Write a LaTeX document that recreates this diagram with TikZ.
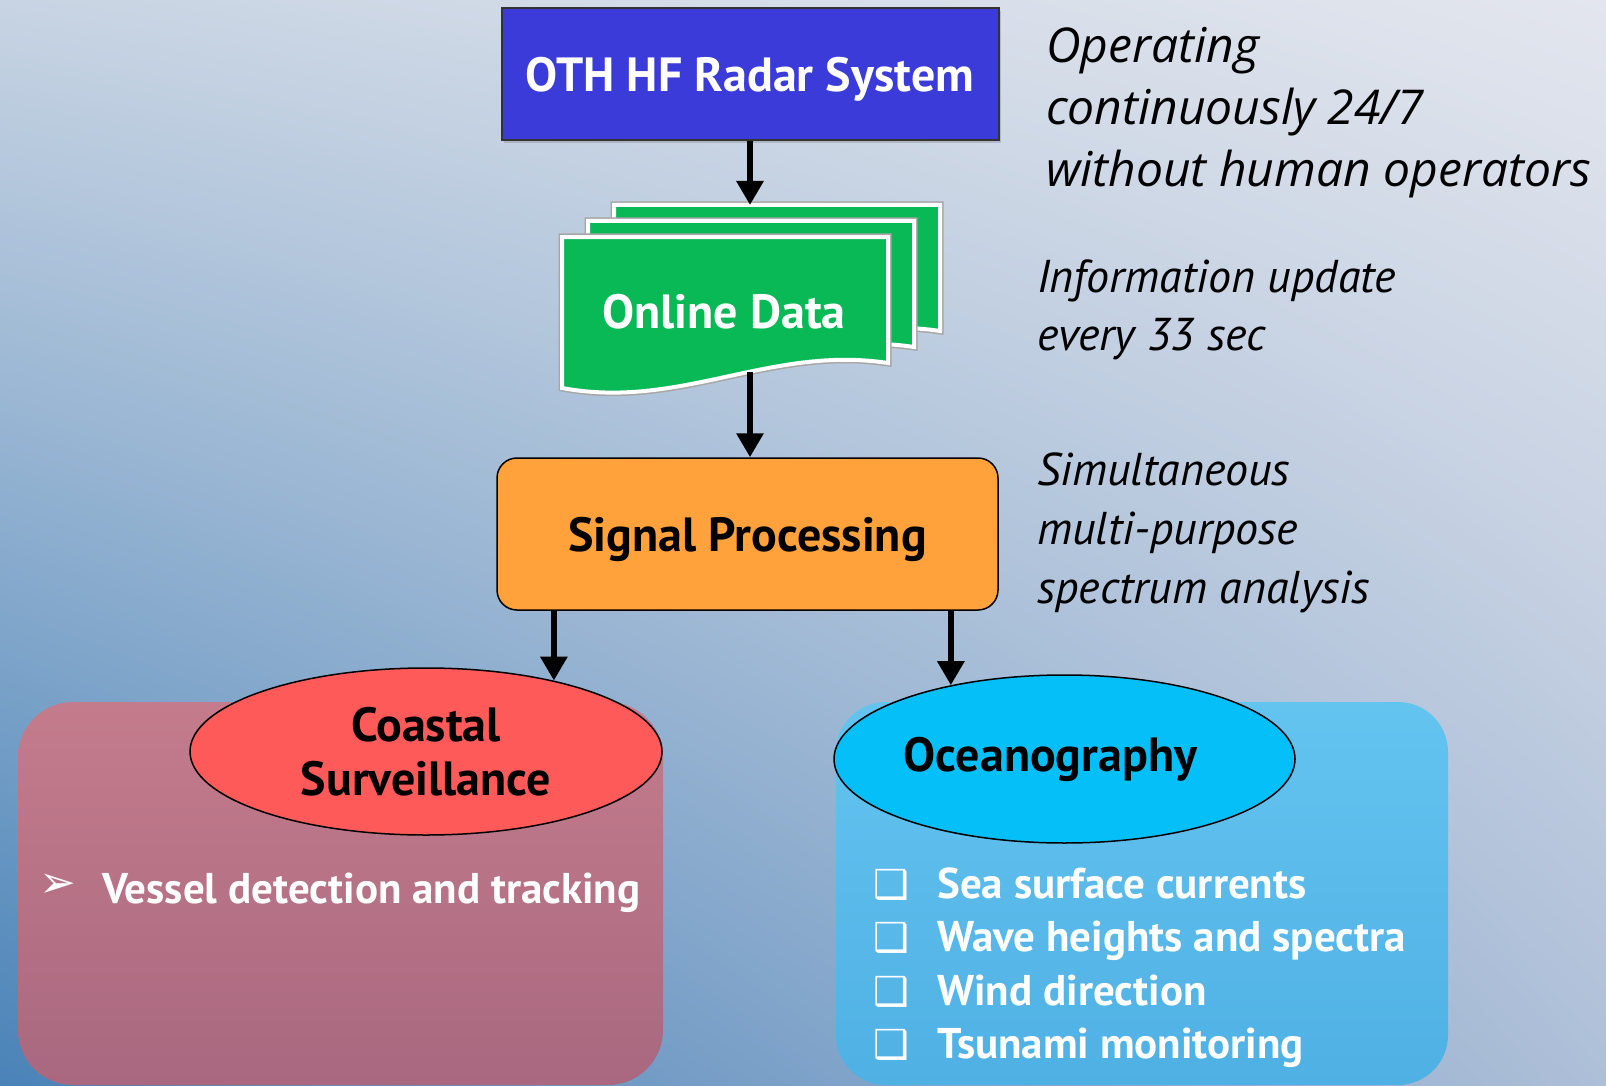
\documentclass[tikz,border=0pt]{standalone}
\usepackage{fontspec}
\setmainfont{PT Sans}
\newfontfamily\notefont{Open Sans}
\newfontfamily\dingfont{DejaVu Sans}
\usetikzlibrary{arrows.meta, positioning, shapes.geometric, shadows, shadings}
\definecolor{bgUL}{HTML}{C8D4E3}
\definecolor{bgUR}{HTML}{E3E6EE}
\definecolor{bgLL}{HTML}{4A83B8}
\definecolor{bgLR}{HTML}{AEBFD8}
\definecolor{radarBlue}{HTML}{3B3BD9}
\definecolor{dataGreen}{HTML}{08B955}
\definecolor{procOrange}{HTML}{FFA23B}
\definecolor{coastRed}{HTML}{FF5A5A}
\definecolor{oceanCyan}{HTML}{05C0F8}
\definecolor{coastTop}{HTML}{C47C8C}
\definecolor{coastBot}{HTML}{A96880}
\definecolor{oceanTop}{HTML}{64C4F0}
\definecolor{oceanBot}{HTML}{4FB0E4}

\begin{document}
\begin{tikzpicture}[x=1pt, y=-1pt,
    flow/.style={line width=6pt, -{Triangle[width=26pt, length=24pt]}},
    bigtext/.style={font=\bfseries\fontsize{48}{56}\selectfont},
    radarbox/.style={rectangle, fill=radarBlue, draw=black!80, line width=2pt, text=white, bigtext, text depth=0pt,
        minimum width=497pt, minimum height=132pt, drop shadow={opacity=0.35, shadow xshift=2pt, shadow yshift=-3pt}},
    procbox/.style={rectangle, rounded corners=20pt, fill=procOrange, draw=black, line width=1.5pt, bigtext, text depth=0pt,
        minimum width=501pt, minimum height=152pt},
    topic/.style={ellipse, draw=black, line width=1.5pt, bigtext, align=center, inner sep=0pt},
    sheet/.style={fill=dataGreen, draw=white, line width=4pt, preaction={draw=gray!70, line width=7pt}},
    notetext/.style={font=\itshape\fontsize{46}{58}\selectfont, align=left, anchor=base west, inner sep=0pt},
    listtext/.style={text=white, font=\bfseries\fontsize{43}{50}\selectfont, anchor=base west, inner sep=0pt},
    marker/.style={text=white, inner sep=0pt}]

    % background
    \shade[upper left=bgUL, upper right=bgUR, lower left=bgLL, lower right=bgLR] (0,0) rectangle (1606,1086);
    \useasboundingbox (0,0) rectangle (1606,1086);

    % application panels
    \shade[top color=coastTop, bottom color=coastBot, rounded corners=55pt] (18,702) rectangle (663,1085);
    \shade[top color=oceanTop, bottom color=oceanBot, rounded corners=50pt] (836,702) rectangle (1448,1085);

    % radar
    \node[radarbox] (radar) at (750,74) {OTH HF Radar System};

    % online data sheets
    \draw[sheet, shift={(52,-32)}] (562,237) -- (888,237) -- (888,363) .. controls (770,345) and (680,410) .. (562,388) -- cycle;
    \draw[sheet, shift={(26,-16)}] (562,237) -- (888,237) -- (888,363) .. controls (770,345) and (680,410) .. (562,388) -- cycle;
    \draw[sheet] (562,237) -- (888,237) -- (888,363) .. controls (770,345) and (680,410) .. (562,388) -- cycle;
    \node[bigtext, text=white, inner sep=0pt] (data) at (724,312) {Online Data};
    \coordinate (datatop) at (750,205);
    \coordinate (databot) at (750,372);

    % processing and topics
    \node[procbox] (proc) at (747.5,534) {Signal Processing};
    \node[topic, fill=coastRed, minimum width=472pt, minimum height=167pt] (coast) at (426,751.5) {Coastal\\[-2pt]Surveillance};
    \node[topic, fill=oceanCyan, minimum width=461pt, minimum height=168pt] (ocean) at (1064.5,759) {Oceanography\hspace*{28pt}};

    \draw[flow] (radar) -- (datatop);
    \draw[flow] (databot) -- (databot |- proc.north);
    \draw[flow] (proc.south -| coast.29.5) -- (coast.29.5);
    \draw[flow] (proc.south -| ocean.147.2) -- (ocean.147.2);

    % notes on the right
    \node[notetext, font=\notefont\itshape\fontsize{48}{62}\selectfont] (note1) at (1046,187) {Operating\\continuously 24/7\\without human operators};
    \node[notetext] (note2) at (1037,350) {Information update\\every 33 sec};
    \node[notetext, font=\itshape\fontsize{46}{59}\selectfont] (note3) at (1037,603) {Simultaneous\\multi-purpose\\spectrum analysis};

    % lists
    \node[marker, font=\dingfont\fontsize{44}{44}\selectfont] (arrowmark) at (58,886) {➢};
    \node[listtext] (vessel) at (102,903) {Vessel detection and tracking};

    \node[marker, font=\dingfont\fontsize{40}{40}\selectfont] (box1) at (891,885) {❑};
    \node[marker, font=\dingfont\fontsize{40}{40}\selectfont] (box2) at (891,938) {❑};
    \node[marker, font=\dingfont\fontsize{40}{40}\selectfont] (box3) at (891,992) {❑};
    \node[marker, font=\dingfont\fontsize{40}{40}\selectfont] (box4) at (891,1045) {❑};
    \node[listtext] (item1) at (937,898) {Sea surface currents};
    \node[listtext] (item2) at (937,951) {Wave heights and spectra};
    \node[listtext] (item3) at (937,1005) {Wind direction};
    \node[listtext] (item4) at (937,1058) {Tsunami monitoring};
\end{tikzpicture}
\end{document}
